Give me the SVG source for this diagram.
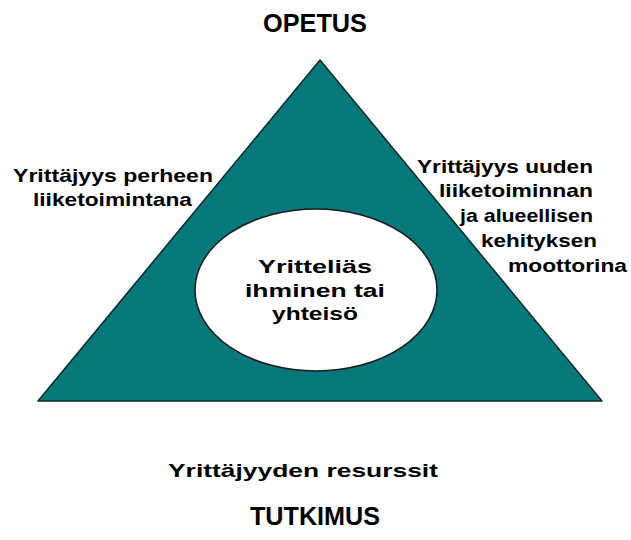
<svg xmlns="http://www.w3.org/2000/svg" width="631" height="540" viewBox="0 0 631 540">
<style>
text{font-family:"Liberation Sans",Arial,sans-serif;font-weight:bold;fill:#000}
.t{font-size:26px}
.l{font-size:19px}
</style>
<rect width="631" height="540" fill="#fff"/>
<g id="triangle">
<polygon points="320,60 38,401 602,401" fill="#04787a" stroke="#0a2a2a" stroke-width="1.5" stroke-linejoin="round"/>
</g>
<g id="center">
<ellipse cx="316" cy="290" rx="121" ry="81" fill="#fff" stroke="#1a1a1a" stroke-width="1.5"/>
<text class="l" x="258" y="273" textLength="114" lengthAdjust="spacingAndGlyphs">Yritteliäs</text>
<text class="l" x="245" y="297" textLength="140" lengthAdjust="spacingAndGlyphs">ihminen tai</text>
<text class="l" x="272" y="320" textLength="86" lengthAdjust="spacingAndGlyphs">yhteisö</text>
</g>
<g id="opetus">
<text class="t" x="263" y="32" textLength="104" lengthAdjust="spacingAndGlyphs">OPETUS</text>
</g>
<g id="left-label">
<text class="l" x="13" y="182" textLength="200" lengthAdjust="spacingAndGlyphs">Yrittäjyys perheen</text>
<text class="l" x="33" y="206" textLength="159" lengthAdjust="spacingAndGlyphs">liiketoimintana</text>
</g>
<g id="right-label">
<text class="l" x="417" y="173" textLength="176" lengthAdjust="spacingAndGlyphs">Yrittäjyys uuden</text>
<text class="l" x="439" y="197" textLength="154" lengthAdjust="spacingAndGlyphs">liiketoiminnan</text>
<text class="l" x="460" y="222" textLength="133" lengthAdjust="spacingAndGlyphs">ja alueellisen</text>
<text class="l" x="481" y="247" textLength="116" lengthAdjust="spacingAndGlyphs">kehityksen</text>
<text class="l" x="508" y="272" textLength="119" lengthAdjust="spacingAndGlyphs">moottorina</text>
</g>
<g id="resources">
<text class="l" x="168" y="477" textLength="270" lengthAdjust="spacingAndGlyphs">Yrittäjyyden resurssit</text>
</g>
<g id="tutkimus">
<text class="t" x="250" y="525" textLength="130" lengthAdjust="spacingAndGlyphs">TUTKIMUS</text>
</g>
<g id="connectors"/>
</svg>
